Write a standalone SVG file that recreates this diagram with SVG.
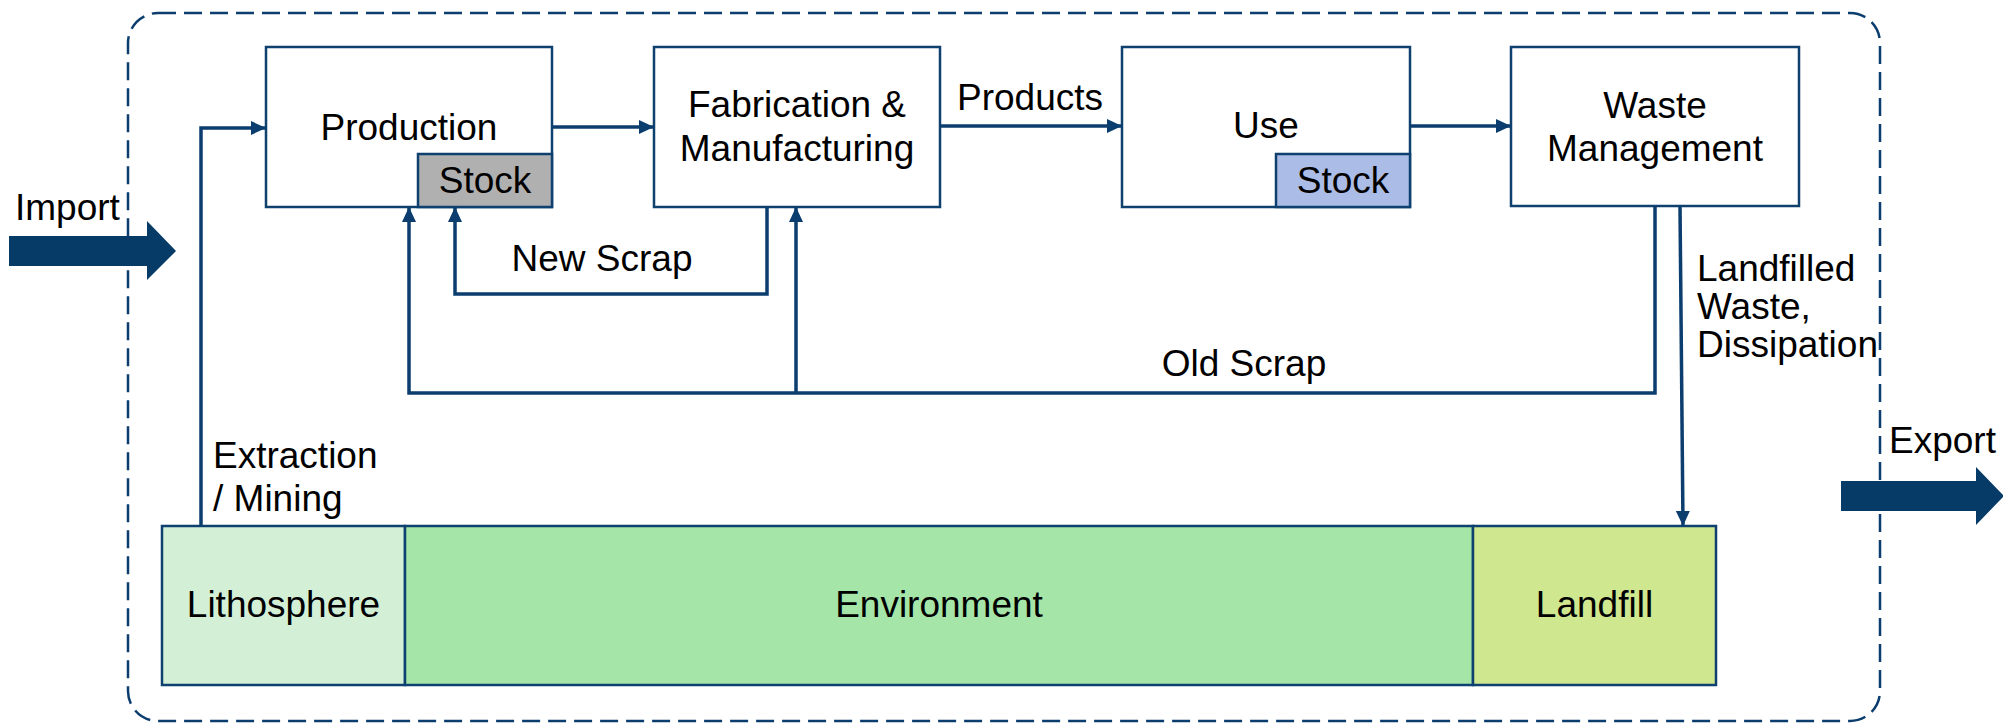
<svg xmlns="http://www.w3.org/2000/svg" width="2003" height="723" viewBox="0 0 2003 723">
<style>
.box{fill:#ffffff;stroke:#0e4170;stroke-width:2.5}
.t{font-family:"Liberation Sans",Arial,sans-serif;font-size:37px;fill:#000000}
.c{text-anchor:middle}
.ln{fill:none;stroke:#0b3d6e;stroke-width:3.5}
.big{fill:#063a67}
</style>
<defs>
<marker id="ah" markerUnits="userSpaceOnUse" markerWidth="16" markerHeight="15" refX="15" refY="7" orient="auto">
<path d="M0,0 L15,7 L0,14 z" fill="#0b3d6e"/>
</marker>
</defs>
<rect id="boundary" x="128" y="13" width="1752" height="708" rx="30" fill="none" stroke="#0b3d6e" stroke-width="2.5" stroke-dasharray="18,8"/>

<g id="production">
<rect class="box" x="266" y="47" width="286" height="160"/>
<text class="t c" x="409" y="140">Production</text>
<rect x="418" y="154" width="134" height="53" fill="#b0b0b0" stroke="#0e4170" stroke-width="2.5"/>
<text class="t c" x="485" y="193">Stock</text>
</g>
<g id="fabrication">
<rect class="box" x="654" y="47" width="286" height="160"/>
<text class="t c" x="797" y="117">Fabrication &amp;</text>
<text class="t c" x="797" y="161">Manufacturing</text>
</g>
<g id="use">
<rect class="box" x="1122" y="47" width="288" height="160"/>
<text class="t c" x="1266" y="138">Use</text>
<rect x="1276" y="154" width="134" height="53" fill="#abbde6" stroke="#0e4170" stroke-width="2.5"/>
<text class="t c" x="1343" y="193">Stock</text>
</g>
<g id="waste">
<rect class="box" x="1511" y="47" width="288" height="159"/>
<text class="t c" x="1655" y="118">Waste</text>
<text class="t c" x="1655" y="161">Management</text>
</g>
<g id="lithosphere">
<rect x="162" y="526" width="243" height="159" fill="#d3f0d6" stroke="#0e4170" stroke-width="2.5"/>
<text class="t c" x="283.5" y="617">Lithosphere</text>
</g>
<g id="environment">
<rect x="405" y="526" width="1068" height="159" fill="#a5e6a8" stroke="#0e4170" stroke-width="2.5"/>
<text class="t c" x="939" y="617">Environment</text>
</g>
<g id="landfill">
<rect x="1473" y="526" width="243" height="159" fill="#cfe78f" stroke="#0e4170" stroke-width="2.5"/>
<text class="t c" x="1594.5" y="617">Landfill</text>
</g>
<g id="import">
<polygon class="big" points="9,236 147,236 147,221 176,251 147,280 147,266 9,266"/>
<text class="t" x="15" y="220">Import</text>
</g>
<g id="export">
<polygon class="big" points="1841,481 1976,481 1976,467 2004,496 1976,525 1976,511 1841,511"/>
<text class="t" x="1889" y="453">Export</text>
</g>

<g id="connectors">
<path class="ln" d="M201,526 V128 H266" marker-end="url(#ah)"/>
<path class="ln" d="M552,127 H654" marker-end="url(#ah)"/>
<path class="ln" d="M940,126 H1122" marker-end="url(#ah)"/>
<path class="ln" d="M1410,126 H1511" marker-end="url(#ah)"/>
<path class="ln" d="M767,207 V294 H455 V207" marker-end="url(#ah)"/>
<path class="ln" d="M1655,206 V393 H409 V207" marker-end="url(#ah)"/>
<path class="ln" d="M796,393 V207" marker-end="url(#ah)"/>
<path class="ln" d="M1680,206 L1683,526" marker-end="url(#ah)"/>
<text class="t" x="213" y="468">Extraction</text>
<text class="t" x="213" y="511">/ Mining</text>
<text class="t c" x="1030" y="110">Products</text>
<text class="t c" x="602" y="271">New Scrap</text>
<text class="t c" x="1244" y="376">Old Scrap</text>
<text class="t" x="1697" y="281">Landfilled</text>
<text class="t" x="1697" y="319">Waste,</text>
<text class="t" x="1697" y="357">Dissipation</text>
</g>
</svg>
